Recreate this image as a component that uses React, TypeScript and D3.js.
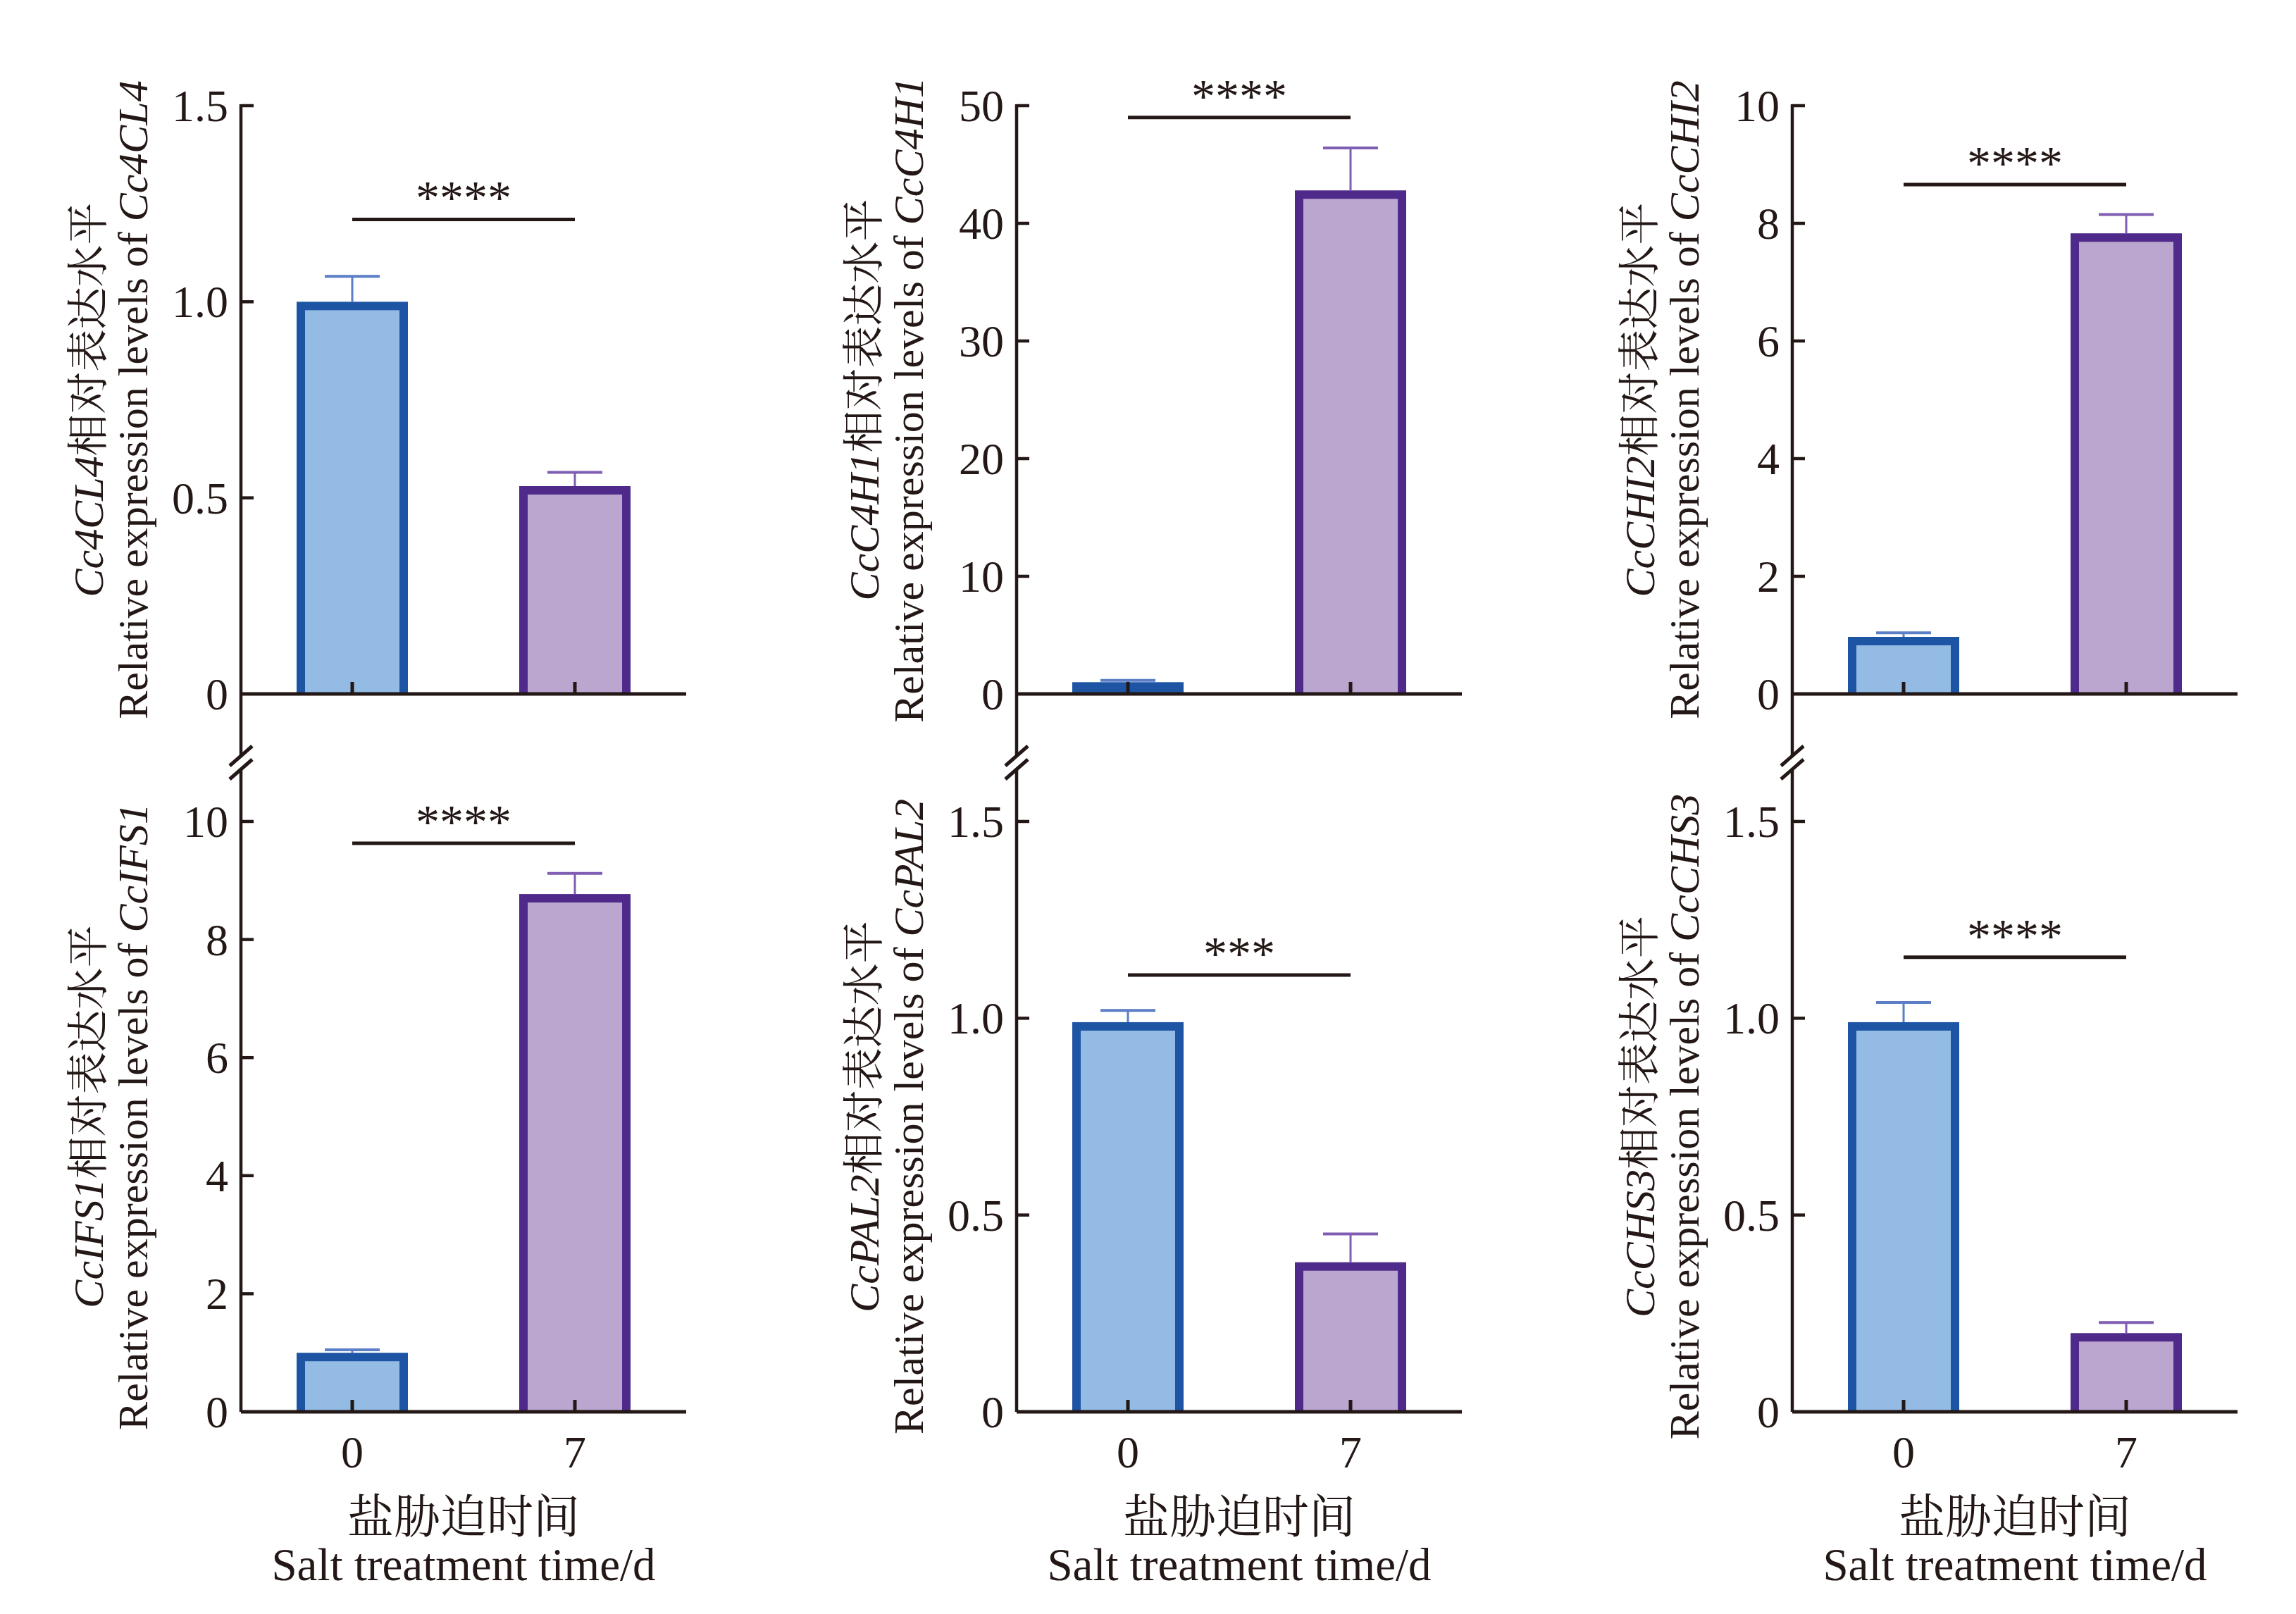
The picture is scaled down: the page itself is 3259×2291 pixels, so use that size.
import * as d3 from "d3";
import { useEffect, useRef } from "react";

// panels: top row then bottom row, left to right
const genes = ["Cc4CL4", "CcC4H1", "CcCHI2", "CcIFS1", "CcPAL2", "CcCHS3"];
const timePoints = ["0", "7"];
const mean0 = [1.0, 1.0, 0.97, 1.0, 0.99, 0.99];
const mean7 = [0.53, 42.8, 7.83, 8.77, 0.38, 0.2];
const err0 = [0.065, 0.15, 0.07, 0.05, 0.03, 0.05];
const err7 = [0.035, 3.6, 0.32, 0.35, 0.072, 0.027];
const yMax = [1.5, 50, 10, 10, 1.5, 1.5];
const tickLabels = [
  ["0", "0.5", "1.0", "1.5"],
  ["0", "10", "20", "30", "40", "50"],
  ["0", "2", "4", "6", "8", "10"],
  ["0", "2", "4", "6", "8", "10"],
  ["0", "0.5", "1.0", "1.5"],
  ["0", "0.5", "1.0", "1.5"],
];
const sigLabels = ["****", "****", "****", "****", "***", "****"];
const sigLevels = [1.21, 49.0, 8.66, 9.63, 1.11, 1.155];

const W = 3259;
const H = 2291;
const colX = [342, 1443, 2544];
const plotW = 632;
const rowTop = [150, 1166];
const rowZero = [985, 2004];
const breakY = [1074, 1091]; // where the two axis pieces meet the break slashes

const ink = "#231815";
const barStroke = ["#1d55a4", "#4f2a8b"];
const barFill = ["#93bbe4", "#baa6cf"];
const errColor = ["#5b7ec6", "#7f5db3"];
const font = "'Liberation Serif', 'Times New Roman', 'Noto Serif CJK SC', 'Noto Sans CJK SC', serif";

export default function App() {
  const svgRef = useRef<SVGSVGElement | null>(null);

  useEffect(() => {
    if (!svgRef.current) return;
    const svg = d3.select(svgRef.current);
    svg.selectAll("*").remove();

    svg.append("rect").attr("width", W).attr("height", H).attr("fill", "#fff");

    const sw = 12; // bar outline width

    genes.forEach((gene, i) => {
      const col = i % 3;
      const row = Math.floor(i / 3);
      const x0 = colX[col];

      const x = d3
        .scaleBand<string>()
        .domain(timePoints)
        .range([x0, x0 + plotW])
        .paddingInner(0.5)
        .paddingOuter(0.25);
      const y = d3.scaleLinear().domain([0, yMax[i]]).range([rowZero[row], rowTop[row]]);

      const g = svg.append("g");
      const means = [mean0[i], mean7[i]];
      const errs = [err0[i], err7[i]];

      // bars: outline colour first, then the inner fill
      timePoints.forEach((t, j) => {
        const bx = x(t)!;
        const bw = x.bandwidth();
        const top = y(means[j]);
        const h = y(0) - top;
        g.append("rect")
          .attr("x", bx)
          .attr("y", top)
          .attr("width", bw)
          .attr("height", h)
          .attr("fill", barStroke[j]);
        if (h > 2 * sw) {
          g.append("rect")
            .attr("x", bx + sw)
            .attr("y", top + sw)
            .attr("width", bw - 2 * sw)
            .attr("height", h - sw)
            .attr("fill", barFill[j]);
        }

        // error bar (upper only)
        const cx = bx + bw / 2;
        const ey = y(means[j] + errs[j]);
        g.append("line")
          .attr("x1", cx).attr("x2", cx)
          .attr("y1", top).attr("y2", ey)
          .attr("stroke", errColor[j])
          .attr("stroke-width", 3);
        g.append("line")
          .attr("x1", cx - 39).attr("x2", cx + 39)
          .attr("y1", ey).attr("y2", ey)
          .attr("stroke", errColor[j])
          .attr("stroke-width", 4);
      });

      // y axis line, running to the break
      const axisTop = row === 0 ? rowTop[0] : breakY[1];
      const axisBottom = row === 0 ? breakY[0] : rowZero[1];
      g.append("line")
        .attr("x1", x0).attr("x2", x0)
        .attr("y1", axisTop - (row === 0 ? 2 : 0)).attr("y2", axisBottom)
        .attr("stroke", ink)
        .attr("stroke-width", 4.5);

      // x axis line
      g.append("line")
        .attr("x1", x0).attr("x2", x0 + plotW)
        .attr("y1", y(0)).attr("y2", y(0))
        .attr("stroke", ink)
        .attr("stroke-width", 5);

      // y ticks (inward) and labels
      const ticks = tickLabels[i];
      ticks.forEach((lab) => {
        const ty = y(+lab);
        if (+lab !== 0) {
          g.append("line")
            .attr("x1", x0).attr("x2", x0 + 18)
            .attr("y1", ty).attr("y2", ty)
            .attr("stroke", ink)
            .attr("stroke-width", 4.5);
        }
        g.append("text")
          .attr("x", x0 - 18)
          .attr("y", ty + 22)
          .attr("text-anchor", "end")
          .attr("font-family", font)
          .attr("font-size", 64)
          .attr("fill", ink)
          .text(lab);
      });

      // x ticks (inward, at bar centres)
      timePoints.forEach((t) => {
        const cx = x(t)! + x.bandwidth() / 2;
        g.append("line")
          .attr("x1", cx).attr("x2", cx)
          .attr("y1", y(0)).attr("y2", y(0) - 17)
          .attr("stroke", ink)
          .attr("stroke-width", 5);
        if (row === 1) {
          g.append("text")
            .attr("x", cx)
            .attr("y", 2083)
            .attr("text-anchor", "middle")
            .attr("font-family", font)
            .attr("font-size", 64)
            .attr("fill", ink)
            .text(t);
        }
      });

      // significance bracket
      const c0 = x(timePoints[0])! + x.bandwidth() / 2;
      const c1 = x(timePoints[1])! + x.bandwidth() / 2;
      const sy = y(sigLevels[i]);
      g.append("line")
        .attr("x1", c0).attr("x2", c1)
        .attr("y1", sy).attr("y2", sy)
        .attr("stroke", ink)
        .attr("stroke-width", 5);
      g.append("text")
        .attr("x", (c0 + c1) / 2)
        .attr("y", sy - 8)
        .attr("text-anchor", "middle")
        .attr("font-family", font)
        .attr("font-size", 68)
        .attr("fill", ink)
        .text(sigLabels[i]);

      // y axis title, two rotated lines
      const yc = (rowTop[row] + rowZero[row]) / 2;
      const l1 = g.append("text")
        .attr("transform", `translate(${x0 - 196},${yc}) rotate(-90)`)
        .attr("text-anchor", "middle")
        .attr("font-family", font)
        .attr("font-size", 60)
        .attr("fill", ink);
      l1.append("tspan").attr("font-style", "italic").text(gene);
      l1.append("tspan").text("相对表达水平");

      const l2 = g.append("text")
        .attr("transform", `translate(${x0 - 133},${yc}) rotate(-90)`)
        .attr("text-anchor", "middle")
        .attr("font-family", font)
        .attr("font-size", 60)
        .attr("fill", ink);
      l2.append("tspan").text("Relative expression levels of ");
      l2.append("tspan").attr("font-style", "italic").text(gene);

      // x axis title under the bottom row
      if (row === 1) {
        const xc = x0 + plotW / 2;
        g.append("text")
          .attr("x", xc)
          .attr("y", 2176)
          .attr("text-anchor", "middle")
          .attr("font-family", font)
          .attr("font-size", 66)
          .attr("fill", ink)
          .text("盐胁迫时间");
        g.append("text")
          .attr("x", xc)
          .attr("y", 2243)
          .attr("text-anchor", "middle")
          .attr("font-family", font)
          .attr("font-size", 65)
          .attr("fill", ink)
          .text("Salt treatment time/d");
      }
    });

    // axis break slashes in every column
    colX.forEach((cx) => {
      [breakY[0] - 1, breakY[1] + 1].forEach((by) => {
        svg.append("line")
          .attr("x1", cx - 16).attr("y1", by + 14)
          .attr("x2", cx + 16).attr("y2", by - 14)
          .attr("stroke", ink)
          .attr("stroke-width", 5);
      });
    });
  }, []);

  return (
    <svg
      ref={svgRef}
      width={W}
      height={H}
      style={{ position: "absolute", left: 0, top: 0, display: "block" }}
    ></svg>
  );
}
